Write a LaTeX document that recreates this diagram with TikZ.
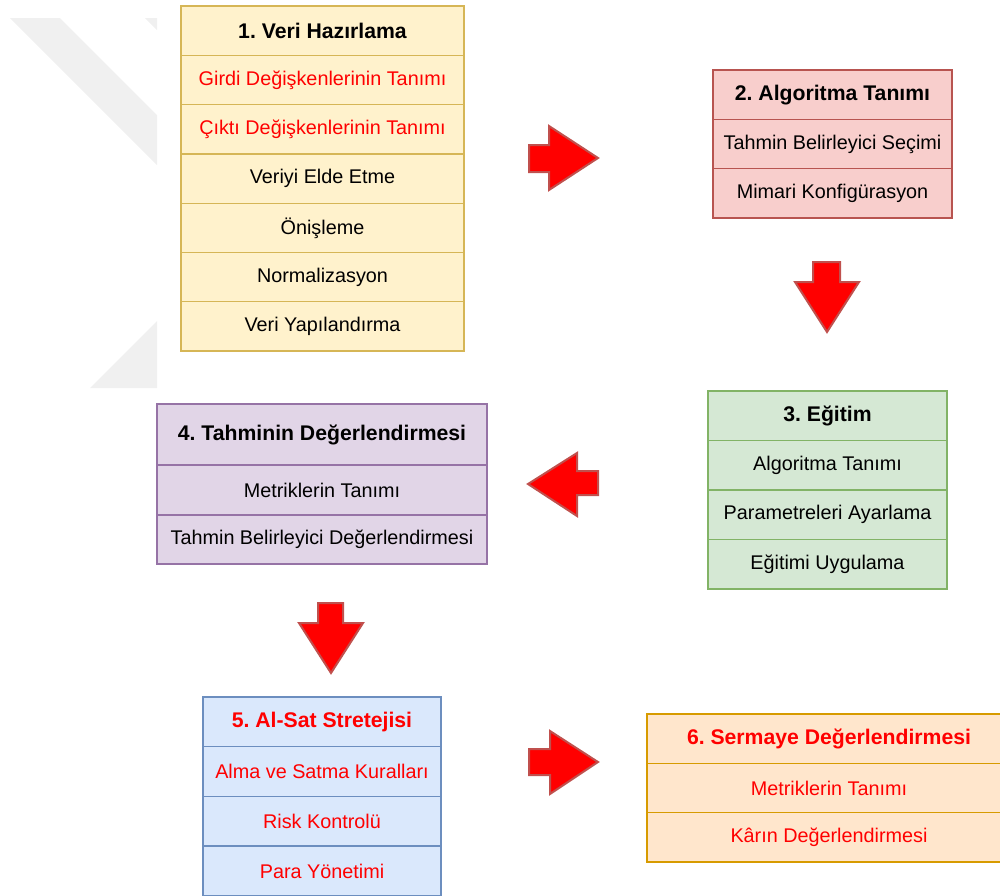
\documentclass[tikz,border=0pt]{standalone}
\usepackage{fontspec}
\setmainfont{Liberation Sans}
\frenchspacing
\begin{document}
\begin{tikzpicture}[x=1pt,y=-1pt,
  cell/.style={draw, rectangle, inner sep=0pt, outer sep=0pt, line width=1.3pt,
    font=\fontsize{19.8}{22}\selectfont, align=center},
  head/.style={cell, font=\fontsize{21.2}{24}\selectfont\bfseries},
  yel/.style={fill=yelfill, draw=yeldraw},
  rd/.style={fill=redfill, draw=reddraw},
  grn/.style={fill=grnfill, draw=grndraw},
  pur/.style={fill=purfill, draw=purdraw},
  blu/.style={fill=blufill, draw=bludraw},
  org/.style={fill=orgfill, draw=orgdraw},
  hot/.style={text=red},
  blockarrow/.style={fill=red, draw=arrdraw, line width=2pt, line join=miter},
  faintband/.style={fill=black!6, draw=none}]
\definecolor{yelfill}{HTML}{FFF2CC}\definecolor{yeldraw}{HTML}{D6B656}
\definecolor{redfill}{HTML}{F8CECC}\definecolor{reddraw}{HTML}{B85450}
\definecolor{grnfill}{HTML}{D5E8D4}\definecolor{grndraw}{HTML}{82B366}
\definecolor{purfill}{HTML}{E1D5E7}\definecolor{purdraw}{HTML}{9673A6}
\definecolor{blufill}{HTML}{DAE8FC}\definecolor{bludraw}{HTML}{6C8EBF}
\definecolor{orgfill}{HTML}{FFE6CC}\definecolor{orgdraw}{HTML}{D79B00}
\definecolor{arrdraw}{HTML}{C0504D}

\useasboundingbox (0,0) rectangle (1000,895);
\begin{scope}
\clip (0,0) rectangle (1000,895);

% faint background bands
\fill[faintband] (10,18) -- (60,18) -- (157,115) -- (157,165) -- cycle;
\fill[faintband] (145,18) -- (157,18) -- (157,30) -- cycle;
\fill[faintband] (90,388) -- (157,388) -- (157,321) -- cycle;

% 1. Veri Hazirlama
\begin{scope}[every node/.append style={yel, minimum width=283pt, minimum height=49.3pt}]
\node[head] (a0) at (322.5,30.65) {1. Veri Hazırlama};
\node[cell,hot] (a1) at (322.5,79.95) {Girdi Değişkenlerinin Tanımı};
\node[cell,hot] (a2) at (322.5,129.25) {Çıktı Değişkenlerinin Tanımı};
\node[cell] (a3) at (322.5,178.55) {Veriyi Elde Etme};
\node[cell] (a4) at (322.5,227.85) {Önişleme};
\node[cell] (a5) at (322.5,277.15) {Normalizasyon};
\node[cell] (a6) at (322.5,326.45) {Veri Yapılandırma};
\end{scope}

% 2. Algoritma Tanimi
\begin{scope}[every node/.append style={rd, minimum width=239pt, minimum height=49.3pt}]
\node[head] (b0) at (832.5,94.65) {2. Algoritma Tanımı};
\node[cell] (b1) at (832.5,143.95) {Tahmin Belirleyici Seçimi};
\node[cell] (b2) at (832.5,193.25) {Mimari Konfigürasyon};
\end{scope}

% 3. Egitim
\begin{scope}[every node/.append style={grn, minimum width=239pt, minimum height=49.5pt}]
\node[head] (c0) at (827.5,415.75) {3. Eğitim};
\node[cell] (c1) at (827.5,465.25) {Algoritma Tanımı};
\node[cell] (c2) at (827.5,514.75) {Parametreleri Ayarlama};
\node[cell] (c3) at (827.5,564.25) {Eğitimi Uygulama};
\end{scope}

% 4. Tahminin Degerlendirmesi
\begin{scope}[every node/.append style={pur, minimum width=330pt}]
\node[head, minimum height=61pt] (d0) at (322,434.5) {4. Tahminin Değerlendirmesi};
\node[cell, minimum height=50pt] (d1) at (322,490) {Metriklerin Tanımı};
\node[cell, minimum height=49pt] (d2) at (322,539.5) {Tahmin Belirleyici Değerlendirmesi};
\end{scope}

% 5. Al-Sat Stretejisi
\begin{scope}[every node/.append style={blu, hot, minimum width=238pt, minimum height=49.7pt}]
\node[head] (e0) at (322,721.85) {5. Al-Sat Stretejisi};
\node[cell] (e1) at (322,771.55) {Alma ve Satma Kuralları};
\node[cell] (e2) at (322,821.25) {Risk Kontrolü};
\node[cell] (e3) at (322,870.95) {Para Yönetimi};
\end{scope}

% 6. Sermaye Degerlendirmesi
\begin{scope}[every node/.append style={org, hot, minimum width=364pt, minimum height=49.3pt}]
\node[head] (f0) at (829,738.65) {6. Sermaye Değerlendirmesi};
\node[cell] (f1) at (829,787.95) {Metriklerin Tanımı};
\node[cell] (f2) at (829,837.25) {Kârın Değerlendirmesi};
\end{scope}

% block arrows between the stages
\draw[blockarrow] (529,145) -- (549,145) -- (549,126) -- (598,158) -- (549,190) -- (549,172) -- (529,172) -- cycle;
\draw[blockarrow] (813,262) -- (840,262) -- (840,282) -- (859,282) -- (827,332) -- (795,282) -- (813,282) -- cycle;
\draw[blockarrow] (598,471) -- (577,471) -- (577,453) -- (528,484) -- (577,516) -- (577,495) -- (598,495) -- cycle;
\draw[blockarrow] (318,603) -- (343,603) -- (343,623) -- (363,623) -- (331,673) -- (299,623) -- (318,623) -- cycle;
\draw[blockarrow] (529,749) -- (550,749) -- (550,731) -- (598,762) -- (550,794) -- (550,775) -- (529,775) -- cycle;
\end{scope}
\end{tikzpicture}
\end{document}
